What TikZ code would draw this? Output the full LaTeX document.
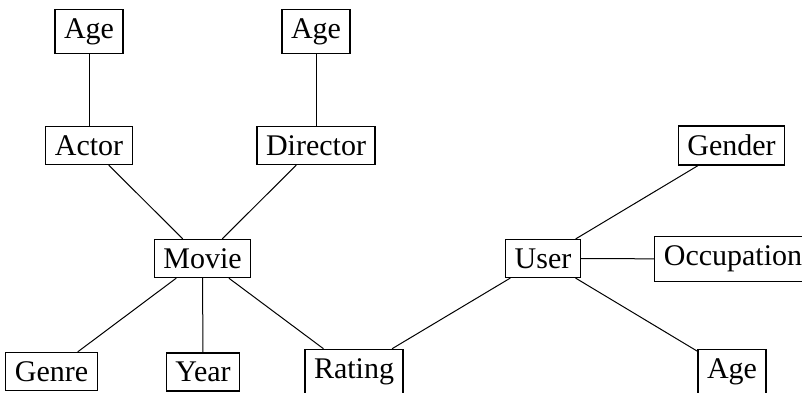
\documentclass[tikz,border=0pt]{standalone}
\usepackage{fontspec}
\setmainfont{Liberation Serif}
\begin{document}
\begin{tikzpicture}[x=0.5pt,y=-0.5pt,
  entity/.style={draw,line width=0.6pt,inner sep=4.5pt,font=\fontsize{15}{18}\selectfont},
  link/.style={line width=0.5pt}]
\useasboundingbox (0,0) rectangle (802,392);
\clip (0,0) rectangle (802,392);
\node[entity] (ageA) at (89,31.5) {Age};
\node[entity] (ageD) at (316,31.5) {Age};
\node[entity] (actor) at (89,145.5) {Actor};
\node[entity] (director) at (316,145.5) {Director};
\node[entity] (gender) at (731.5,145.5) {Gender};
\node[entity] (movie) at (202.5,258.5) {Movie};
\node[entity] (user) at (543,258.5) {User};
\node[entity] (occ) at (733,259) {Occupation};
\node[entity] (genre) at (51.5,371.5) {Genre};
\node[entity] (year) at (203,372) {Year};
\node[entity] (rating) at (354,371.5) {Rating};
\node[entity] (ageU) at (732,372) {Age};
\draw[link] (ageA) -- (actor);
\draw[link] (ageD) -- (director);
\draw[link] (actor) -- (movie);
\draw[link] (director) -- (movie);
\draw[link] (movie) -- (genre);
\draw[link] (movie) -- (year);
\draw[link] (movie) -- (rating);
\draw[link] (rating) -- (user);
\draw[link] (user) -- (gender);
\draw[link] (user) -- (occ);
\draw[link] (user) -- (ageU);
\end{tikzpicture}
\end{document}
